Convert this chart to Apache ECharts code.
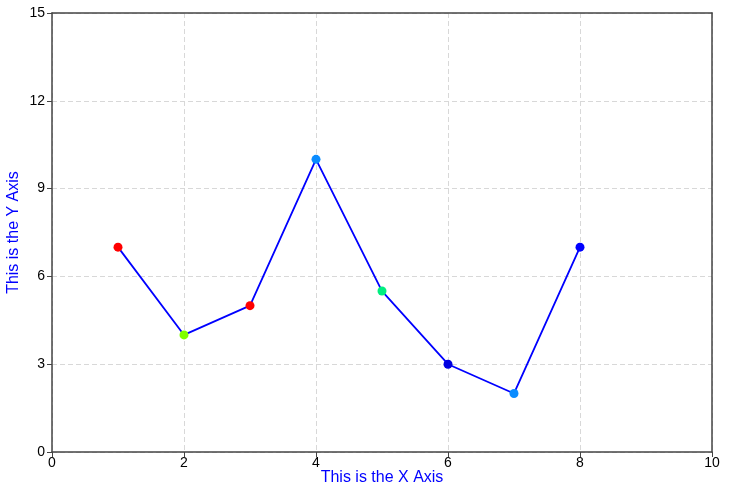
<!DOCTYPE html>
<html><head><meta charset="utf-8">
<script src="https://cdn.jsdelivr.net/npm/echarts@6/dist/echarts.min.js"></script>
<style>html,body{margin:0;padding:0;background:#fff}#c{width:737px;height:488px}</style>
</head><body><div id="c"></div>
<script>
const xValues = [1, 2, 3, 4, 5, 6, 7, 8];
const yValues = [7, 4, 5, 10, 5.5, 3, 2, 7];
const pointColors = ['#ff0000', '#80ff00', '#ff0000', '#0a8cff', '#00ee80', '#0000e0', '#0a8cff', '#0000ff'];

const FONT = 'Liberation Sans';
const frameAxis = {
  type: 'value', axisLine: { show: true, onZero: false, lineStyle: { color: '#444', width: 1.5 } },
  axisTick: { show: false }, axisLabel: { show: false }, splitLine: { show: false }
};
const chart = echarts.init(document.getElementById('c'));
chart.setOption({
  animation: false,
  backgroundColor: '#fff',
  grid: { left: 52, right: 25, top: 13, bottom: 36, outerBoundsMode: 'none', containLabel: false },
  xAxis: [{
    type: 'value', min: 0, max: 10, interval: 2, position: 'bottom',
    name: 'This is the X Axis', nameLocation: 'middle', nameGap: 18, nameMoveOverlap: false,
    nameTextStyle: { color: '#0000ff', fontSize: 16, fontFamily: FONT },
    axisLine: { show: true, onZero: false, lineStyle: { color: '#444', width: 1.5 } },
    axisTick: { show: true, length: 5, lineStyle: { color: '#444' } },
    axisLabel: { color: '#000', fontSize: 14, margin: 4, fontFamily: FONT },
    splitLine: { show: true, lineStyle: { color: '#d8d8d8', type: [5, 3] } }
  }, Object.assign({ min: 0, max: 10, position: 'top' }, frameAxis)],
  yAxis: [{
    type: 'value', min: 0, max: 15, interval: 3, position: 'left',
    name: 'This is the Y Axis', nameLocation: 'middle', nameGap: 30, nameRotate: 90, nameMoveOverlap: false,
    nameTextStyle: { color: '#0000ff', fontSize: 16, fontFamily: FONT },
    axisLine: { show: true, onZero: false, lineStyle: { color: '#444', width: 1.5 } },
    axisTick: { show: true, length: 5, lineStyle: { color: '#444' } },
    axisLabel: { color: '#000', fontSize: 14, margin: 7, fontFamily: FONT },
    splitLine: { show: true, lineStyle: { color: '#d8d8d8', type: [5, 3] } }
  }, Object.assign({ min: 0, max: 15, position: 'right' }, frameAxis)],
  series: [{
    type: 'line',
    data: xValues.map((x, i) => ({ value: [x, yValues[i]], itemStyle: { color: pointColors[i] } })),
    lineStyle: { color: '#0000ff', width: 1.8 },
    symbol: 'circle', symbolSize: 9,
    itemStyle: { borderWidth: 0 },
    emphasis: { disabled: true }
  }]
});
</script></body></html>
